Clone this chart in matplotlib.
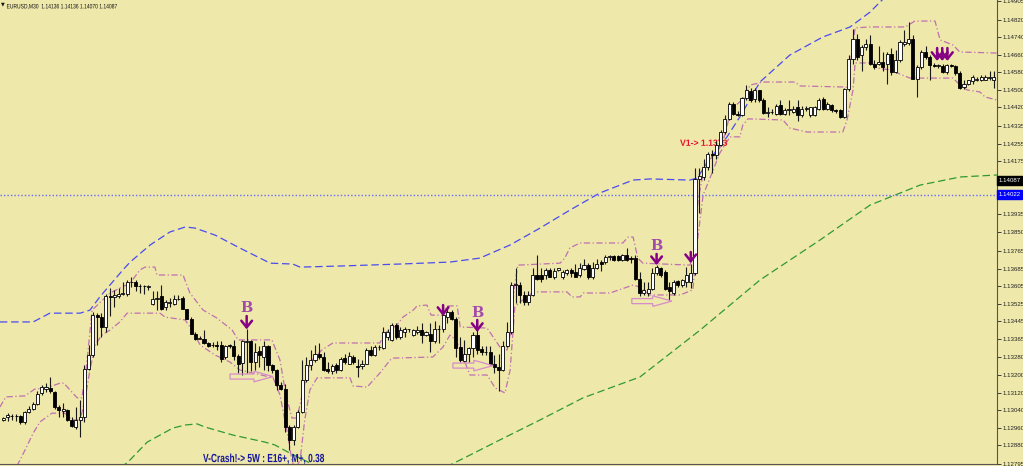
import numpy as np
import matplotlib
matplotlib.use('Agg')
import matplotlib.pyplot as plt
from matplotlib.patches import FancyArrow, PathPatch
from matplotlib.textpath import TextPath
from matplotlib.font_manager import FontProperties
from matplotlib.transforms import Affine2D, ScaledTranslation

# EURUSD M30 candles (oldest first)
opens = [1.12995, 1.13008, 1.13013, 1.13015, 1.13013, 1.12984, 1.13033, 1.13047, 1.13068, 1.13116,
         1.13138, 1.13143, 1.13121, 1.13056, 1.13038, 1.13040, 1.12997, 1.12965, 1.12993, 1.13010,
         1.13229, 1.13291, 1.13473, 1.13466, 1.13417, 1.13561, 1.13556, 1.13561, 1.13570, 1.13570,
         1.13622, 1.13622, 1.13606, 1.13608, 1.13603, 1.13524, 1.13545, 1.13561, 1.13508, 1.13528,
         1.13526, 1.13545, 1.13549, 1.13499, 1.13457, 1.13389, 1.13366, 1.13366, 1.13346, 1.13337,
         1.13339, 1.13337, 1.13280, 1.13335, 1.13330, 1.13287, 1.13257, 1.13349, 1.13353, 1.13261,
         1.13309, 1.13284, 1.13330, 1.13245, 1.13223, 1.13154, 1.13138, 1.12965, 1.12904, 1.12965,
         1.13033, 1.13177, 1.13247, 1.13268, 1.13298, 1.13282, 1.13229, 1.13216, 1.13245, 1.13223,
         1.13278, 1.13252, 1.13284, 1.13241, 1.13241, 1.13252, 1.13314, 1.13291, 1.13326, 1.13321,
         1.13375, 1.13360, 1.13428, 1.13375, 1.13398, 1.13408, 1.13382, 1.13398, 1.13403, 1.13382,
         1.13389, 1.13353, 1.13410, 1.13408, 1.13466, 1.13489, 1.13457, 1.13328, 1.13266, 1.13296,
         1.13321, 1.13382, 1.13317, 1.13307, 1.13305, 1.13252, 1.13238, 1.13223, 1.13333, 1.13396,
         1.13612, 1.13612, 1.13567, 1.13535, 1.13565, 1.13658, 1.13656, 1.13656, 1.13681, 1.13649,
         1.13677, 1.13645, 1.13663, 1.13679, 1.13668, 1.13654, 1.13683, 1.13703, 1.13645, 1.13690,
         1.13715, 1.13717, 1.13740, 1.13743, 1.13743, 1.13724, 1.13749, 1.13733, 1.13733, 1.13640,
         1.13572, 1.13572, 1.13594, 1.13663, 1.13686, 1.13670, 1.13603, 1.13572, 1.13628, 1.13610,
         1.13626, 1.13626, 1.13663, 1.14092, 1.14105, 1.14150, 1.14210, 1.14203, 1.14249, 1.14310,
         1.14369, 1.14438, 1.14392, 1.14385, 1.14461, 1.14493, 1.14457, 1.14498, 1.14452, 1.14397,
         1.14401, 1.14392, 1.14431, 1.14390, 1.14408, 1.14401, 1.14420, 1.14385, 1.14415, 1.14385,
         1.14385, 1.14415, 1.14457, 1.14415, 1.14431, 1.14410, 1.14408, 1.14378, 1.14502, 1.14643,
         1.14734, 1.14659, 1.14694, 1.14710, 1.14620, 1.14620, 1.14629, 1.14620, 1.14666, 1.14580,
         1.14636, 1.14710, 1.14712, 1.14730, 1.14552, 1.14606, 1.14671, 1.14652, 1.14613, 1.14611,
         1.14611, 1.14580, 1.14613, 1.14609, 1.14575, 1.14513, 1.14529, 1.14541, 1.14547, 1.14545,
         1.14547, 1.14556, 1.14545]
highs = [1.13008, 1.13026, 1.13022, 1.13022, 1.13017, 1.13038, 1.13059, 1.13079, 1.13125, 1.13154,
         1.13163, 1.13191, 1.13125, 1.13063, 1.13072, 1.13045, 1.13010, 1.13056, 1.13086, 1.13245,
         1.13337, 1.13489, 1.13485, 1.13485, 1.13570, 1.13597, 1.13588, 1.13597, 1.13626, 1.13631,
         1.13647, 1.13633, 1.13615, 1.13610, 1.13610, 1.13581, 1.13581, 1.13610, 1.13542, 1.13552,
         1.13565, 1.13565, 1.13558, 1.13503, 1.13464, 1.13398, 1.13378, 1.13405, 1.13351, 1.13349,
         1.13353, 1.13353, 1.13337, 1.13342, 1.13360, 1.13298, 1.13360, 1.13408, 1.13360, 1.13346,
         1.13330, 1.13353, 1.13337, 1.13252, 1.13229, 1.13170, 1.13161, 1.12972, 1.12972, 1.13040,
         1.13268, 1.13284, 1.13314, 1.13337, 1.13344, 1.13307, 1.13261, 1.13252, 1.13257, 1.13284,
         1.13298, 1.13307, 1.13291, 1.13275, 1.13268, 1.13321, 1.13330, 1.13337, 1.13337, 1.13421,
         1.13412, 1.13435, 1.13435, 1.13421, 1.13421, 1.13412, 1.13408, 1.13424, 1.13435, 1.13400,
         1.13435, 1.13444, 1.13428, 1.13503, 1.13515, 1.13496, 1.13466, 1.13373, 1.13360, 1.13328,
         1.13398, 1.13405, 1.13330, 1.13330, 1.13330, 1.13291, 1.13298, 1.13353, 1.13442, 1.13624,
         1.13686, 1.13624, 1.13581, 1.13581, 1.13686, 1.13749, 1.13690, 1.13690, 1.13690, 1.13690,
         1.13690, 1.13679, 1.13684, 1.13690, 1.13704, 1.13713, 1.13731, 1.13713, 1.13717, 1.13731,
         1.13724, 1.13749, 1.13747, 1.13747, 1.13747, 1.13754, 1.13777, 1.13743, 1.13745, 1.13670,
         1.13626, 1.13626, 1.13686, 1.13701, 1.13694, 1.13679, 1.13626, 1.13633, 1.13635, 1.13640,
         1.13694, 1.13708, 1.14146, 1.14144, 1.14187, 1.14219, 1.14226, 1.14265, 1.14317, 1.14385,
         1.14447, 1.14447, 1.14403, 1.14468, 1.14522, 1.14509, 1.14511, 1.14500, 1.14461, 1.14420,
         1.14413, 1.14438, 1.14454, 1.14418, 1.14454, 1.14427, 1.14454, 1.14427, 1.14427, 1.14424,
         1.14427, 1.14461, 1.14466, 1.14443, 1.14438, 1.14415, 1.14415, 1.14507, 1.14659, 1.14776,
         1.14757, 1.14705, 1.14734, 1.14750, 1.14636, 1.14698, 1.14675, 1.14675, 1.14689, 1.14682,
         1.14728, 1.14773, 1.14808, 1.14750, 1.14613, 1.14682, 1.14698, 1.14659, 1.14622, 1.14620,
         1.14618, 1.14620, 1.14620, 1.14613, 1.14584, 1.14545, 1.14547, 1.14568, 1.14559, 1.14566,
         1.14568, 1.14584, 1.14588]
lows = [1.12990, 1.12990, 1.12995, 1.12990, 1.12977, 1.12977, 1.13026, 1.13040, 1.13063, 1.13109,
        1.13123, 1.13118, 1.13047, 1.13010, 1.13010, 1.12990, 1.12963, 1.12952, 1.12919, 1.12984,
        1.13223, 1.13284, 1.13337, 1.13375, 1.13398, 1.13469, 1.13512, 1.13552, 1.13565, 1.13561,
        1.13603, 1.13581, 1.13572, 1.13570, 1.13586, 1.13519, 1.13496, 1.13496, 1.13496, 1.13512,
        1.13519, 1.13540, 1.13499, 1.13455, 1.13387, 1.13360, 1.13362, 1.13342, 1.13328, 1.13328,
        1.13314, 1.13261, 1.13271, 1.13324, 1.13268, 1.13207, 1.13200, 1.13209, 1.13216, 1.13223,
        1.13238, 1.13223, 1.13216, 1.13207, 1.13132, 1.13132, 1.12942, 1.12858, 1.12881, 1.12959,
        1.13026, 1.13170, 1.13223, 1.13261, 1.13275, 1.13216, 1.13207, 1.13205, 1.13207, 1.13216,
        1.13252, 1.13250, 1.13252, 1.13193, 1.13229, 1.13250, 1.13287, 1.13287, 1.13314, 1.13317,
        1.13360, 1.13353, 1.13366, 1.13366, 1.13375, 1.13394, 1.13378, 1.13389, 1.13346, 1.13378,
        1.13307, 1.13344, 1.13346, 1.13398, 1.13437, 1.13451, 1.13284, 1.13261, 1.13261, 1.13261,
        1.13284, 1.13298, 1.13291, 1.13291, 1.13245, 1.13207, 1.13125, 1.13216, 1.13328, 1.13387,
        1.13528, 1.13528, 1.13519, 1.13519, 1.13558, 1.13633, 1.13622, 1.13640, 1.13645, 1.13640,
        1.13672, 1.13638, 1.13654, 1.13645, 1.13645, 1.13649, 1.13679, 1.13640, 1.13638, 1.13683,
        1.13672, 1.13708, 1.13724, 1.13722, 1.13719, 1.13719, 1.13719, 1.13710, 1.13633, 1.13561,
        1.13565, 1.13558, 1.13588, 1.13656, 1.13647, 1.13588, 1.13542, 1.13565, 1.13603, 1.13603,
        1.13603, 1.13597, 1.13656, 1.13938, 1.14089, 1.14135, 1.14121, 1.14187, 1.14242, 1.14301,
        1.14363, 1.14385, 1.14381, 1.14381, 1.14454, 1.14447, 1.14447, 1.14447, 1.14392, 1.14378,
        1.14390, 1.14385, 1.14385, 1.14385, 1.14385, 1.14394, 1.14356, 1.14378, 1.14403, 1.14378,
        1.14381, 1.14408, 1.14410, 1.14410, 1.14401, 1.14397, 1.14374, 1.14374, 1.14493, 1.14620,
        1.14636, 1.14584, 1.14682, 1.14613, 1.14597, 1.14613, 1.14584, 1.14529, 1.14568, 1.14575,
        1.14629, 1.14698, 1.14705, 1.14548, 1.14466, 1.14597, 1.14643, 1.14545, 1.14604, 1.14600,
        1.14575, 1.14573, 1.14606, 1.14568, 1.14502, 1.14506, 1.14522, 1.14529, 1.14541, 1.14541,
        1.14543, 1.14545, 1.14511]
closes = [1.13004, 1.13017, 1.13015, 1.13013, 1.12984, 1.13033, 1.13047, 1.13070, 1.13114, 1.13147,
          1.13147, 1.13125, 1.13056, 1.13040, 1.13043, 1.12997, 1.12968, 1.12993, 1.13010, 1.13229,
          1.13291, 1.13473, 1.13466, 1.13417, 1.13561, 1.13556, 1.13565, 1.13570, 1.13572, 1.13622,
          1.13624, 1.13606, 1.13608, 1.13606, 1.13608, 1.13545, 1.13552, 1.13503, 1.13531, 1.13531,
          1.13545, 1.13547, 1.13503, 1.13457, 1.13389, 1.13366, 1.13371, 1.13344, 1.13333, 1.13339,
          1.13330, 1.13275, 1.13330, 1.13330, 1.13287, 1.13252, 1.13353, 1.13355, 1.13261, 1.13307,
          1.13291, 1.13330, 1.13245, 1.13223, 1.13154, 1.13138, 1.12965, 1.12904, 1.12965, 1.13033,
          1.13177, 1.13245, 1.13268, 1.13298, 1.13282, 1.13225, 1.13216, 1.13241, 1.13225, 1.13275,
          1.13261, 1.13287, 1.13261, 1.13236, 1.13252, 1.13314, 1.13291, 1.13326, 1.13328, 1.13398,
          1.13398, 1.13428, 1.13375, 1.13405, 1.13408, 1.13410, 1.13403, 1.13405, 1.13382, 1.13394,
          1.13353, 1.13412, 1.13408, 1.13473, 1.13489, 1.13457, 1.13321, 1.13268, 1.13298, 1.13321,
          1.13382, 1.13314, 1.13303, 1.13305, 1.13252, 1.13238, 1.13223, 1.13333, 1.13396, 1.13612,
          1.13615, 1.13567, 1.13535, 1.13567, 1.13658, 1.13640, 1.13638, 1.13679, 1.13649, 1.13674,
          1.13686, 1.13668, 1.13679, 1.13663, 1.13649, 1.13690, 1.13703, 1.13649, 1.13690, 1.13708,
          1.13708, 1.13740, 1.13743, 1.13724, 1.13724, 1.13749, 1.13724, 1.13731, 1.13640, 1.13572,
          1.13588, 1.13594, 1.13663, 1.13692, 1.13656, 1.13594, 1.13581, 1.13626, 1.13610, 1.13633,
          1.13656, 1.13663, 1.14096, 1.14108, 1.14150, 1.14210, 1.14203, 1.14249, 1.14310, 1.14369,
          1.14438, 1.14392, 1.14385, 1.14461, 1.14500, 1.14454, 1.14500, 1.14452, 1.14397, 1.14401,
          1.14399, 1.14427, 1.14390, 1.14408, 1.14415, 1.14415, 1.14385, 1.14415, 1.14418, 1.14420,
          1.14420, 1.14454, 1.14415, 1.14436, 1.14408, 1.14406, 1.14378, 1.14502, 1.14643, 1.14734,
          1.14652, 1.14694, 1.14710, 1.14620, 1.14606, 1.14629, 1.14606, 1.14666, 1.14580, 1.14636,
          1.14717, 1.14717, 1.14734, 1.14552, 1.14606, 1.14671, 1.14652, 1.14613, 1.14611, 1.14613,
          1.14580, 1.14613, 1.14611, 1.14575, 1.14511, 1.14529, 1.14543, 1.14561, 1.14550, 1.14561,
          1.14561, 1.14559, 1.14561]

# indicator lines, read as (bar, price) points
chan_up_x = [-0.8, 0.6, 5.1, 7.4, 10.2, 13.3, 14.2, 15.2, 17.3, 18.4, 19.4, 20.8, 25.0, 29.7, 32.0,
             33.2, 35.5, 36.0, 42.1, 43.7, 46.8, 50.0, 53.6, 55.0, 62.9, 64.8, 66.2, 67.6, 68.8, 70.0,
             70.9, 72.3, 74.6, 77.2, 88.2, 89.4, 92.2, 93.6, 96.0, 96.9, 99.2, 100.2, 103.0, 103.9, 106.3,
             107.0, 113.3, 115.2, 116.3, 118.0, 118.9, 119.6, 120.5, 130.4, 131.5, 132.7, 135.1, 145.1,
             146.3, 147.5, 148.6, 149.8, 160.8, 162.0, 162.7, 164.3, 166.0, 167.8, 169.0, 170.4, 173.7,
             174.9, 177.9, 185.4, 186.6, 197.6, 198.5, 199.5, 203.0, 211.2, 213.5, 218.2, 219.4, 222.4,
             224.0, 232.7]
chan_up_y = [1.13054, 1.13100, 1.13105, 1.13136, 1.13141, 1.13163, 1.13163, 1.13141, 1.13096, 1.13096,
             1.13223, 1.13496, 1.13574, 1.13619, 1.13679, 1.13692, 1.13692, 1.13656, 1.13656, 1.13574,
             1.13496, 1.13460, 1.13405, 1.13360, 1.13360, 1.13268, 1.13109, 1.13004, 1.13004, 1.13109,
             1.13187, 1.13268, 1.13314, 1.13346, 1.13346, 1.13391, 1.13428, 1.13464, 1.13496, 1.13515,
             1.13519, 1.13473, 1.13473, 1.13515, 1.13515, 1.13419, 1.13414, 1.13360, 1.13328, 1.13314,
             1.13405, 1.13588, 1.13701, 1.13710, 1.13733, 1.13780, 1.13802, 1.13802, 1.13829, 1.13829,
             1.13733, 1.13710, 1.13701, 1.13770, 1.13998, 1.14157, 1.14194, 1.14235, 1.14295, 1.14408,
             1.14468, 1.14522, 1.14536, 1.14536, 1.14518, 1.14513, 1.14636, 1.14783, 1.14787, 1.14787,
             1.14814, 1.14814, 1.14728, 1.14705, 1.14673, 1.14668]
chan_lo_x = [3.2, 5.1, 7.0, 8.6, 11.4, 14.4, 16.1, 18.0, 19.1, 20.3, 21.5, 23.1, 25.0, 27.3, 29.0, 36.7,
             37.9, 42.6, 44.2, 46.1, 49.6, 53.1, 55.4, 63.2, 64.8, 66.4, 67.6, 68.3, 69.5, 70.6, 71.8,
             73.5, 81.2, 81.9, 85.2, 88.2, 90.6, 91.3, 100.6, 103.0, 104.6, 106.0, 108.1, 109.3, 113.3,
             115.2, 117.5, 118.7, 119.8, 121.0, 123.3, 124.0, 132.0, 133.2, 135.1, 135.8, 142.1, 146.1,
             147.5, 149.1, 151.4, 158.5, 161.5, 162.5, 163.9, 165.5, 167.8, 170.2, 172.5, 173.2, 174.4,
             182.6, 184.2, 188.2, 196.6, 197.6, 199.0, 199.5, 203.4, 204.6, 207.7, 212.3, 222.4, 224.1,
             225.7, 228.7, 229.9, 232.7]
chan_lo_y = [1.12785, 1.12858, 1.12935, 1.12986, 1.13026, 1.13026, 1.12995, 1.12995, 1.13086, 1.13223,
             1.13337, 1.13382, 1.13405, 1.13442, 1.13482, 1.13482, 1.13464, 1.13451, 1.13405, 1.13337,
             1.13291, 1.13259, 1.13223, 1.13187, 1.13109, 1.12949, 1.12812, 1.12767, 1.12812, 1.12995,
             1.13132, 1.13187, 1.13187, 1.13150, 1.13145, 1.13209, 1.13268, 1.13277, 1.13282, 1.13328,
             1.13382, 1.13360, 1.13259, 1.13200, 1.13200, 1.13141, 1.13118, 1.13223, 1.13510, 1.13533,
             1.13565, 1.13579, 1.13579, 1.13556, 1.13556, 1.13574, 1.13574, 1.13601, 1.13610, 1.13601,
             1.13565, 1.13565, 1.13588, 1.13802, 1.14021, 1.14098, 1.14212, 1.14286, 1.14286, 1.14340,
             1.14368, 1.14363, 1.14326, 1.14308, 1.14308, 1.14363, 1.14500, 1.14623, 1.14623, 1.14600,
             1.14591, 1.14554, 1.14554, 1.14522, 1.14500, 1.14491, 1.14468, 1.14454]
blue_x = [-0.8, 7.0, 10.9, 18.0, 20.3, 22.6, 28.0, 29.7, 34.4, 39.0, 42.6, 44.9, 49.6, 55.4, 62.5, 67.8,
          69.5, 78.9, 92.9, 104.6, 111.6, 118.7, 125.7, 132.7, 139.7, 147.5, 151.5, 160.8, 162.5, 164.8,
          169.5, 172.5, 177.2, 184.2, 191.9, 198.3, 203.0, 205.8, 210.0]
blue_y = [1.13442, 1.13442, 1.13482, 1.13482, 1.13496, 1.13556, 1.13679, 1.13715, 1.13793, 1.13852,
          1.13875, 1.13870, 1.13838, 1.13779, 1.13710, 1.13706, 1.13692, 1.13697, 1.13706, 1.13715,
          1.13733, 1.13793, 1.13870, 1.13952, 1.14030, 1.14089, 1.14094, 1.14089, 1.14098, 1.14167,
          1.14286, 1.14377, 1.14536, 1.14659, 1.14741, 1.14787, 1.14855, 1.14910, 1.14965]
green1_x = [26.2, 29.0, 33.7, 39.7, 42.6, 45.4, 47.2, 53.8, 61.3, 63.6, 67.1, 71.8, 73.7]
green1_y = [1.12767, 1.12799, 1.12894, 1.12958, 1.12972, 1.12977, 1.12963, 1.12926, 1.12894, 1.12881,
            1.12844, 1.12799, 1.12767]
green2_x = [102.3, 109.3, 116.3, 125.7, 135.8, 141.4, 149.1, 163.2, 177.2, 191.3, 203.0, 214.7, 224.1, 232.7]
green2_y = [1.12767, 1.12835, 1.12904, 1.12995, 1.13096, 1.13136, 1.13191, 1.13405, 1.13633, 1.13816,
            1.13975, 1.14066, 1.14103, 1.14112]

# axis
price_ticks = [1.14905, 1.14820, 1.14740, 1.14660, 1.14580, 1.14500, 1.14420, 1.14335, 1.14255,
               1.14175, 1.13935, 1.13850, 1.13765, 1.13685, 1.13605, 1.13525, 1.13445, 1.13365,
               1.13280, 1.13200, 1.13120, 1.13040, 1.12960, 1.12880, 1.12795]
bid_price = 1.14087
line_price = 1.14022
y_min, y_max = 1.127942, 1.14910
header = 'EURUSD,M30  1.14136 1.14136 1.14070 1.14087'

# signals
b_x = [57, 111, 153]
b_y = [1.13505, 1.13482, 1.13789]
arrow_x = [57, 103, 111, 153, 161, 218.7, 219.9, 221.1]
arrow_top = [1.13469, 1.13519, 1.13451, 1.13752, 1.13761, 1.14691, 1.14691, 1.14691]
arrow_tip = [1.13408, 1.13469, 1.13396, 1.13701, 1.13710, 1.14632, 1.14632, 1.14632]
box_tail = [53.1, 105.3, 147.2]
box_tip = [63.2, 114.7, 156.6]
box_y = [1.13193, 1.13243, 1.13537]
v1_text, v1_x, v1_y = 'V1-> 1.1373', 158.5, 1.14245
crash_text, crash_x, crash_y = 'V-Crash!-> 5W : E16+, M+, 0.38', 46.8, 1.12803

o = np.array(opens)
h = np.array(highs)
l = np.array(lows)
c = np.array(closes)
x = np.arange(len(o))
up = c >= o

fig = plt.figure(figsize=(10.23, 4.66), dpi=100)
fig.patch.set_facecolor('#eee8aa')
ax = fig.add_axes([0, 2 / 466, 997 / 1023, 464 / 466])
ax.set_facecolor('#eee8aa')
ax.set_xlim(-0.77, 232.72)
ax.set_ylim(y_min, y_max)


def squeezed(s, px, py, trans, width, cap, color, z, weight='bold'):
    # narrow text: glyph outline scaled to the width / cap height seen in the chart (pixels)
    tp = TextPath((0, 0), s, size=10, prop=FontProperties(family='Liberation Sans', weight=weight))
    e = tp.get_extents()
    t = Affine2D().translate(-e.x0, 0).scale(width / e.width, cap / 7.2) + ScaledTranslation(px, py, trans)
    return PathPatch(tp, transform=t, facecolor=color, edgecolor='none', lw=0, zorder=z)


ax.plot(blue_x, blue_y, color='#4b4bf0', lw=0.9, ls=(0, (6, 3)), zorder=1)
ax.plot(green1_x, green1_y, color='#2f9a2f', lw=0.9, ls=(0, (6, 3)), zorder=1)
ax.plot(green2_x, green2_y, color='#2f9a2f', lw=0.9, ls=(0, (6, 3)), zorder=1)
ax.plot(chan_up_x, chan_up_y, color='#c070b0', lw=0.9, ls=(0, (5, 2, 1, 2)), zorder=1)
ax.plot(chan_lo_x, chan_lo_y, color='#c070b0', lw=0.9, ls=(0, (5, 2, 1, 2)), zorder=1)
ax.axhline(line_price, color='#6a6aff', lw=1.0, ls=(0, (1, 1.5)), zorder=1)

ax.add_patch(squeezed(v1_text, v1_x, v1_y, ax.transData, 47, 6.5, '#e8102e', 2))

# candles
ax.vlines(x, l, h, color='#1a1a1a', lw=0.8, zorder=3)
body = np.maximum(np.abs(c - o), 0.00002)
ax.bar(x[up], body[up], bottom=o[up], width=0.72, color='white', edgecolor='black', lw=0.6, zorder=4)
ax.bar(x[~up], body[~up], bottom=c[~up], width=0.72, color='black', edgecolor='black', lw=0.6, zorder=4)

for bx, by in zip(b_x, b_y):
    ax.text(bx, by, 'B', color='#a24bab', fontsize=10.5, fontweight='bold', family='DejaVu Serif',
            ha='center', va='center', zorder=5)
for xa, at, ap in zip(arrow_x, arrow_top, arrow_tip):
    ax.annotate('', xy=(xa, ap), xytext=(xa, at),
                arrowprops=dict(arrowstyle='->, head_length=0.4, head_width=0.32', color='#860086',
                                lw=1.8, mutation_scale=12, shrinkA=0, shrinkB=0), zorder=5)
for t0, t1, by in zip(box_tail, box_tip, box_y):
    ax.add_patch(FancyArrow(t0, by, t1 - t0, 0, width=0.00023, head_width=0.00048, head_length=4.5,
                            length_includes_head=True, fill=False, edgecolor='#d68ccb', lw=0.9, zorder=5))

ax.add_patch(squeezed(crash_text, crash_x, crash_y, ax.transData, 121, 8.5, '#15159a', 6))

ax.set_xticks([])
ax.yaxis.tick_right()
ax.set_yticks(price_ticks)
ax.set_yticklabels(['%.5f' % p for p in price_ticks], family='Liberation Sans')
ax.tick_params(axis='y', direction='out', length=3, width=0.6, labelsize=4.4, pad=1,
               colors='#222222')
for s in ['left', 'top']:
    ax.spines[s].set_visible(False)
for s in ['right', 'bottom']:
    ax.spines[s].set_color('#555555')
    ax.spines[s].set_linewidth(0.8)

tr = ax.get_yaxis_transform()
ax.text(1.0015, bid_price, '%.5f' % bid_price, transform=tr, fontsize=4.4, family='Liberation Sans',
        color='white', va='center', ha='left', bbox=dict(facecolor='black', edgecolor='black', pad=1.3))
ax.text(1.0015, line_price, '%.5f' % line_price, transform=tr, fontsize=4.4, family='Liberation Sans',
        color='white', va='center', ha='left', bbox=dict(facecolor='#0000ff', edgecolor='#0000ff', pad=1.3))

fig.text(0.001, 0.991, '\u25bc', fontsize=3.5, color='#111111', va='center', ha='left')
fig.add_artist(squeezed(header, 0.0068, 0.982, fig.transFigure, 110, 4.6, '#111111', 7, weight='normal'))

fig.savefig('out.png', dpi=100, facecolor=fig.get_facecolor())
